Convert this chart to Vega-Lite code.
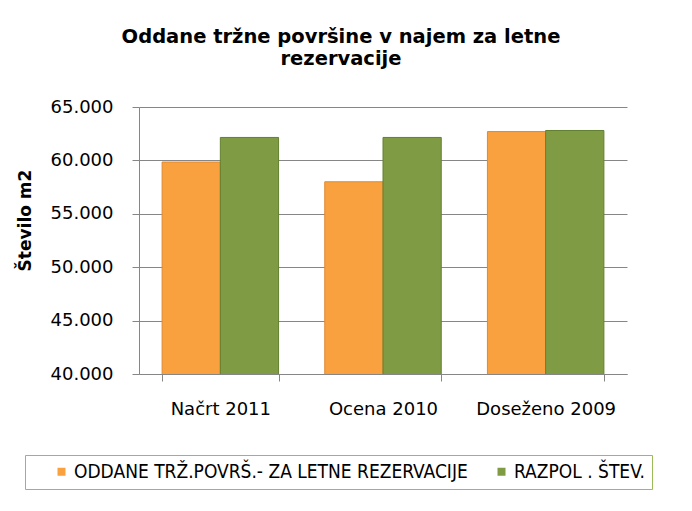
{
  "$schema": "https://vega.github.io/schema/vega-lite/v6.json",
  "width": 488,
  "height": 267,
  "autosize": {"type": "none"},
  "padding": {"left": 139, "top": 107, "right": 65, "bottom": 137},
  "background": "white",
  "config": {
    "locale": {"number": {"decimal": ",", "thousands": ".", "grouping": [3], "currency": ["", " €"]}},
    "view": {"stroke": null},
    "font": "DejaVu Sans"
  },
  "title": {
    "text": ["Oddane tržne površine v najem za letne", "rezervacije"],
    "font": "DejaVu Sans",
    "fontWeight": "bold",
    "fontSize": 19.5,
    "lineHeight": 22,
    "anchor": "middle",
    "frame": "group",
    "dx": -42,
    "offset": 29,
    "color": "#000000"
  },
  "data": {
    "values": [
      {"kategorija": "Načrt 2011", "serija": "ODDANE TRŽ.POVRŠ.- ZA LETNE REZERVACIJE", "vrednost": 59850},
      {"kategorija": "Načrt 2011", "serija": "RAZPOL . ŠTEV.", "vrednost": 62150},
      {"kategorija": "Ocena 2010", "serija": "ODDANE TRŽ.POVRŠ.- ZA LETNE REZERVACIJE", "vrednost": 58000},
      {"kategorija": "Ocena 2010", "serija": "RAZPOL . ŠTEV.", "vrednost": 62150},
      {"kategorija": "Doseženo 2009", "serija": "ODDANE TRŽ.POVRŠ.- ZA LETNE REZERVACIJE", "vrednost": 62700},
      {"kategorija": "Doseženo 2009", "serija": "RAZPOL . ŠTEV.", "vrednost": 62800}
    ]
  },
  "mark": {"type": "bar", "strokeWidth": 1, "clip": true},
  "encoding": {
    "x": {
      "field": "kategorija",
      "type": "nominal",
      "sort": ["Načrt 2011", "Ocena 2010", "Doseženo 2009"],
      "scale": {"paddingInner": 0.284, "paddingOuter": 0.142},
      "axis": {
        "title": null,
        "labelAngle": 0,
        "tickBand": "extent",
        "tickSize": 7,
        "tickColor": "#868686",
        "domainColor": "#868686",
        "labelFont": "DejaVu Sans",
        "labelFontSize": 18,
        "labelPadding": 19,
        "labelColor": "#000000",
        "grid": false
      }
    },
    "xOffset": {
      "field": "serija",
      "type": "nominal",
      "sort": ["ODDANE TRŽ.POVRŠ.- ZA LETNE REZERVACIJE", "RAZPOL . ŠTEV."],
      "scale": {"paddingInner": 0, "paddingOuter": 0}
    },
    "y": {
      "field": "vrednost",
      "type": "quantitative",
      "scale": {"domain": [40000, 65000], "nice": false, "zero": false},
      "axis": {
        "title": "Število m2",
        "titleFont": "DejaVu Sans",
        "titleFontWeight": "bold",
        "titleFontSize": 17,
        "titleColor": "#000000",
        "titleAngle": -90,
        "titleX": -109,
        "titleY": 113,
        "titleAlign": "center",
        "titleBaseline": "alphabetic",
        "values": [40000, 45000, 50000, 55000, 60000, 65000],
        "format": ",.0f",
        "labelFont": "DejaVu Sans",
        "labelFontSize": 18,
        "labelColor": "#000000",
        "labelPadding": 19,
        "tickSize": 7,
        "tickColor": "#868686",
        "domainColor": "#868686",
        "gridColor": "#868686",
        "grid": true
      }
    },
    "color": {
      "field": "serija",
      "type": "nominal",
      "sort": ["ODDANE TRŽ.POVRŠ.- ZA LETNE REZERVACIJE", "RAZPOL . ŠTEV."],
      "scale": {"domain": ["ODDANE TRŽ.POVRŠ.- ZA LETNE REZERVACIJE", "RAZPOL . ŠTEV."], "range": ["#F9A03F", "#7F9C45"]},
      "legend": {
        "title": null,
        "orient": "none",
        "legendX": -114,
        "legendY": 348,
        "direction": "horizontal",
        "strokeColor": "#9BBB59",
        "padding": 7,
        "labelFont": "DejaVu Sans Condensed",
        "labelFontSize": 19,
        "labelColor": "#000000",
        "symbolType": "square",
        "symbolSize": 64,
        "symbolStrokeWidth": 0,
        "symbolOffset": 20,
        "columnPadding": 4,
        "labelOffset": 3,
        "labelLimit": 500
      }
    },
    "stroke": {
      "field": "serija",
      "type": "nominal",
      "scale": {"domain": ["ODDANE TRŽ.POVRŠ.- ZA LETNE REZERVACIJE", "RAZPOL . ŠTEV."], "range": ["#E08A30", "#62802F"]},
      "legend": null
    }
  }
}
